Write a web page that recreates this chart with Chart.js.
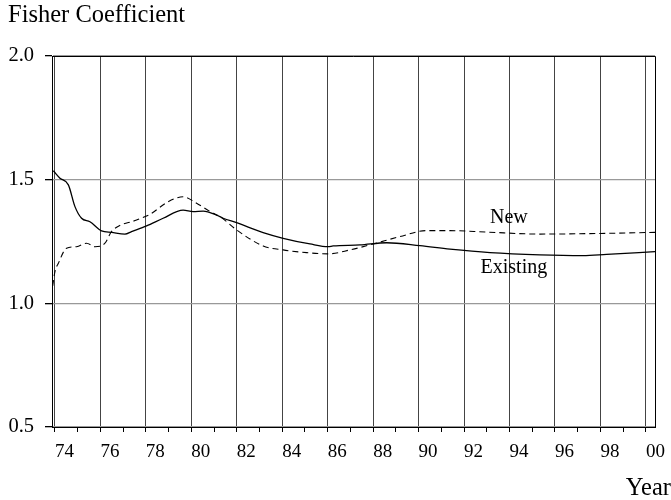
<!DOCTYPE html>
<html>
<head>
<meta charset="utf-8">
<script src="https://cdn.jsdelivr.net/npm/chart.js@4.4.1/dist/chart.umd.min.js"></script>
<style>
  body { margin: 0; background: #fff; }
  #wrap { width: 671px; height: 500px; }
</style>
</head>
<body>
<div id="wrap"><canvas id="chart"></canvas></div>
<script>
const yTicks = [0.5, 1.0, 1.5, 2.0];

const existingYears = [1973.93, 1974.22, 1974.59, 1974.88, 1975.17, 1975.54, 1976.05, 1976.49,
  1977.08, 1977.37, 1978.03, 1978.76, 1979.64, 1980.08, 1980.52, 1981.11, 1981.40, 1981.99,
  1983.16, 1984.04, 1985.22, 1986.02, 1986.24, 1987.42, 1988.59, 1990.06, 1991.38, 1993.14,
  1995.34, 1997.23, 1998.27, 2000.40];
const existing = [1.536, 1.506, 1.479, 1.391, 1.344, 1.330, 1.293, 1.287,
  1.280, 1.290, 1.313, 1.344, 1.377, 1.371, 1.373, 1.357, 1.344, 1.326,
  1.286, 1.263, 1.240, 1.229, 1.232, 1.236, 1.245, 1.233, 1.219, 1.205,
  1.196, 1.193, 1.198, 1.209];

const newYears = [1973.90, 1974.00, 1974.15, 1974.51, 1974.95, 1975.39, 1975.76, 1976.20, 1976.49,
  1977.59, 1978.18, 1978.98, 1979.64, 1980.23, 1980.96, 1981.26, 1981.99, 1983.16,
  1984.04, 1985.07, 1986.02, 1986.98, 1988.00, 1989.18, 1990.35, 1991.38, 1993.00,
  1995.34, 1998.27, 2000.40];
const newValues = [1.070, 1.128, 1.162, 1.223, 1.229, 1.243, 1.229, 1.243, 1.290,
  1.337, 1.360, 1.411, 1.431, 1.405, 1.364, 1.351, 1.297, 1.232,
  1.216, 1.205, 1.200, 1.216, 1.240, 1.270, 1.294, 1.294, 1.288,
  1.280, 1.283, 1.287];

const serif = '"Liberation Serif", "Times New Roman", serif';

function pairs(xs, ys) {
  return xs.map((x, i) => ({ x, y: ys[i] }));
}

const textPlugin = {
  id: 'texts',
  afterDraw(chart) {
    const { ctx, chartArea, scales } = chart;
    ctx.save();
    // frame top and right
    ctx.strokeStyle = '#000';
    ctx.lineWidth = 1;
    ctx.beginPath();
    ctx.moveTo(chartArea.left, chartArea.top + 0.5);
    ctx.lineTo(chartArea.right + 0.5, chartArea.top + 0.5);
    ctx.lineTo(chartArea.right + 0.5, chartArea.bottom);
    ctx.stroke();

    ctx.fillStyle = '#000';
    ctx.font = '24.5px ' + serif;
    ctx.textBaseline = 'alphabetic';
    ctx.textAlign = 'left';
    ctx.fillText('Fisher Coefficient', 8, 22);
    ctx.textAlign = 'right';
    ctx.fillText('Year', 671, 495);

    ctx.font = '20px ' + serif;
    ctx.textAlign = 'center';
    ctx.textBaseline = 'middle';
    ctx.fillText('New', scales.x.getPixelForValue(1993.97), scales.y.getPixelForValue(1.345));
    ctx.fillText('Existing', scales.x.getPixelForValue(1994.19), scales.y.getPixelForValue(1.143));
    ctx.restore();
  },
};

new Chart(document.getElementById('chart'), {
  type: 'line',
  data: {
    datasets: [
      {
        label: 'Existing',
        data: pairs(existingYears, existing),
        borderColor: '#000',
        borderWidth: 1.3,
        pointRadius: 0,
        cubicInterpolationMode: 'monotone',
      },
      {
        label: 'New',
        data: pairs(newYears, newValues),
        borderColor: '#000',
        borderWidth: 1.1,
        borderDash: [6, 4],
        pointRadius: 0,
        cubicInterpolationMode: 'monotone',
      },
    ],
  },
  options: {
    responsive: true,
    maintainAspectRatio: false,
    animation: false,
    layout: { padding: { top: 56, right: 16, left: 0, bottom: 0 } },
    plugins: { legend: { display: false }, tooltip: { enabled: false } },
    scales: {
      x: {
        type: 'linear',
        min: 1973.87,
        max: 2000.40,
        afterBuildTicks(scale) {
          const ticks = [];
          for (let y = 1974; y <= 2000; y += 1) ticks.push({ value: y });
          scale.ticks = ticks;
        },
        afterFit(scale) {
          scale.height = 73;
          scale.paddingLeft = 0;
          scale.paddingRight = 0;
        },
        border: { color: '#000', width: 1 },
        grid: {
          color: (c) => (c.tick && c.tick.value % 2 === 0 ? '#444' : 'rgba(0,0,0,0)'),
          tickColor: '#000',
          tickLength: 5,
          lineWidth: 1,
        },
        ticks: {
          align: 'start',
          padding: 9,
          maxRotation: 0,
          autoSkip: false,
          color: '#000',
          font: { family: serif, size: 19 },
          callback: (v) => (v % 2 === 0 ? String(v % 100).padStart(2, '0') : ''),
        },
      },
      y: {
        min: 0.5,
        max: 2.0,
        afterBuildTicks(scale) {
          scale.ticks = yTicks.map((v) => ({ value: v }));
        },
        afterFit(scale) {
          scale.width = 52;
          scale.paddingTop = 0;
          scale.paddingBottom = 0;
        },
        border: { color: '#000', width: 1 },
        grid: {
          color: '#999',
          tickColor: '#000',
          tickLength: 7,
          lineWidth: 1.3,
        },
        ticks: {
          padding: 11,
          color: '#000',
          font: { family: serif, size: 20.5 },
          callback: (v) => v.toFixed(1),
        },
      },
    },
  },
  plugins: [textPlugin],
});
</script>
</body>
</html>
